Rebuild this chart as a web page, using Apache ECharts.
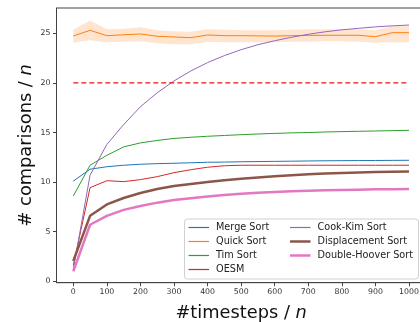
<!DOCTYPE html>
<html>
<head>
<meta charset="utf-8">
<script src="https://cdn.jsdelivr.net/npm/echarts@6/dist/echarts.min.js"></script>
<style>
html,body{margin:0;padding:0;background:#fff;}
#c{width:420px;height:322px;}
</style>
</head>
<body>
<div id="c"></div>
<script>
var steps = [0,50,100,150,200,250,300,350,400,450,500,550,600,650,700,750,800,850,900,950,1000];
var mergeSort = [10.1,11.3,11.55,11.7,11.8,11.86,11.9,11.95,12.0,12.02,12.05,12.07,12.09,12.11,12.13,12.15,12.16,12.17,12.18,12.19,12.2];
var quickSort = [24.73,25.3,24.76,24.85,24.93,24.7,24.63,24.56,24.83,24.76,24.76,24.74,24.72,24.76,24.78,24.8,24.8,24.8,24.66,25.06,25.06];
var quickUpper = [25.35,26.3,25.4,25.45,25.6,25.3,25.2,25.15,25.4,25.35,25.3,25.3,25.3,25.35,25.4,25.4,25.4,25.4,25.3,25.7,25.7];
var quickLower = [24.05,24.3,24.1,24.15,24.2,24.0,23.9,23.9,24.15,24.1,24.1,24.1,24.1,24.15,24.15,24.2,24.2,24.15,24.05,24.1,24.1];
var timSort = [8.6,11.7,12.7,13.55,13.95,14.2,14.4,14.52,14.62,14.7,14.78,14.85,14.91,14.96,15.0,15.05,15.09,15.12,15.15,15.19,15.22];
var oesm = [1.6,9.44,10.14,10.05,10.25,10.55,10.95,11.25,11.5,11.65,11.7,11.7,11.7,11.7,11.7,11.7,11.7,11.7,11.7,11.7,11.7];
var cookKim = [1.2,10.7,13.8,15.8,17.6,19.0,20.2,21.2,22.05,22.75,23.35,23.85,24.25,24.6,24.9,25.15,25.35,25.5,25.65,25.75,25.83];
var displacement = [2.05,6.6,7.75,8.4,8.9,9.3,9.6,9.82,10.0,10.18,10.33,10.47,10.58,10.68,10.78,10.86,10.92,10.97,11.01,11.04,11.06];
var doubleHoover = [1.0,5.7,6.6,7.2,7.6,7.93,8.2,8.38,8.55,8.7,8.82,8.92,9.0,9.07,9.12,9.17,9.21,9.24,9.27,9.29,9.3];
var refX = [0,1000];
var refY = [20,20];
var xTicks = [0,100,200,300,400,500,600,700,800,900,1000];
var yTicks = [0,5,10,15,20,25];
var names = ['Merge Sort','Quick Sort','Tim Sort','OESM','Cook-Kim Sort','Displacement Sort','Double-Hoover Sort'];
var colors = ['#1f77b4','#ff7f0e','#2ca02c','#d62728','#9467bd','#8c564b','#e377c2'];
var widths = [1,1,1,1,1,2.5,2.5];
var seriesValues = [mergeSort, quickSort, timSort, oesm, cookKim, displacement, doubleHoover];

function pairs(xs, ys){ return xs.map(function(x,i){ return [x, ys[i]]; }); }
var bandData = steps.map(function(x,i){ return [x, quickLower[i], quickUpper[i]]; });

var FONT = 'DejaVu Sans';
var chart = echarts.init(document.getElementById('c'), null, {renderer:'canvas'});
function lineSeries(i){
  return {name:names[i], type:'line', data:pairs(steps, seriesValues[i]), symbol:'none', showSymbol:false,
    lineStyle:{color:colors[i], width:widths[i]}, itemStyle:{color:colors[i]}, z:2, animation:false, silent:true};
}
function mkLegend(idx, left, top, w){
  return {data:idx.map(function(i){ return {name:names[i], icon:'rect', itemStyle:{color:colors[i]}}; }),
    left:left, top:top, orient:'vertical', padding:0, itemGap:3, itemWidth:20.5, itemHeight:w, icon:'rect',
    textStyle:{fontFamily:FONT, fontSize:9.7, color:'#222', lineHeight:11, padding:[0,0,0,2]}, z:4, selectedMode:false};
}
var option = {
  animation:false,
  backgroundColor:'#fff',
  color:colors,
  grid:{left:56.5, right:-5.8, top:8, bottom:39.3, outerBoundsMode:'none', containLabel:false, show:true, borderColor:'#444', borderWidth:1, backgroundColor:'transparent'},
  xAxis:{type:'value', min:-50, max:1050,
    name:'{a|#timesteps / }{b|n}', nameLocation:'middle', nameGap:22,
    nameTextStyle:{rich:{a:{fontFamily:FONT,fontSize:17.8,color:'#111'},b:{fontFamily:FONT,fontSize:17.8,fontStyle:'italic',color:'#111'}}},
    axisLine:{show:true, onZero:false, lineStyle:{color:'#444', width:1}},
    axisTick:{show:true, length:3.5, inside:false, customValues:xTicks, lineStyle:{color:'#444'}},
    axisLabel:{customValues:xTicks, fontFamily:FONT, fontSize:7.8, color:'#333', margin:5, formatter:function(v){return String(v);}},
    splitLine:{show:false}},
  yAxis:{type:'value', min:-0.14, max:27.55,
    name:'{a|# comparisons / }{b|n}', nameLocation:'middle', nameGap:21, nameRotate:90, nameMoveOverlap:false,
    nameTextStyle:{rich:{a:{fontFamily:FONT,fontSize:17.8,color:'#111'},b:{fontFamily:FONT,fontSize:17.8,fontStyle:'italic',color:'#111'}}},
    axisLine:{show:true, onZero:false, lineStyle:{color:'#444', width:1}},
    axisTick:{show:true, length:3.5, inside:false, customValues:yTicks, lineStyle:{color:'#444'}},
    axisLabel:{customValues:yTicks, fontFamily:FONT, fontSize:7.8, color:'#333', margin:6, formatter:function(v){return String(v);}},
    splitLine:{show:false}},
  graphic:[{type:'rect', shape:{x:184.5, y:219, width:234, height:60, r:3}, style:{fill:'rgba(255,255,255,0.85)', stroke:'#d0d0d0', lineWidth:1}, z:3, silent:true}],
  legend:[
    mkLegend([0,1,2,3], 188.5, 222, 1.2),
    mkLegend([4], 290, 222, 1.2),
    mkLegend([5,6], 290, 236, 2.5)
  ],
  series:[
    lineSeries(0),
    {name:'qband', type:'custom', data:bandData, z:1, silent:true,
      encode:{x:0, y:[1,2]},
      renderItem:function(params, api){
        if (params.dataIndex !== 0) return null;
        var up = [], lo = [];
        for (var i = 0; i < bandData.length; i++){
          up.push(api.coord([bandData[i][0], bandData[i][2]]));
          lo.push(api.coord([bandData[i][0], bandData[i][1]]));
        }
        var pts = up.concat(lo.reverse());
        return {type:'polygon', shape:{points:pts}, style:{fill:'rgba(255,127,14,0.2)'}};
      }},
    lineSeries(1),
    lineSeries(2),
    lineSeries(3),
    lineSeries(4),
    lineSeries(5),
    lineSeries(6),
    {name:'ref', type:'line', data:pairs(refX, refY), symbol:'none', lineStyle:{color:'#f01010', width:1.3, type:[5,3]}, itemStyle:{color:'#f01010'}, z:2, silent:true}
  ]
};
chart.setOption(option);
</script>
</body>
</html>
